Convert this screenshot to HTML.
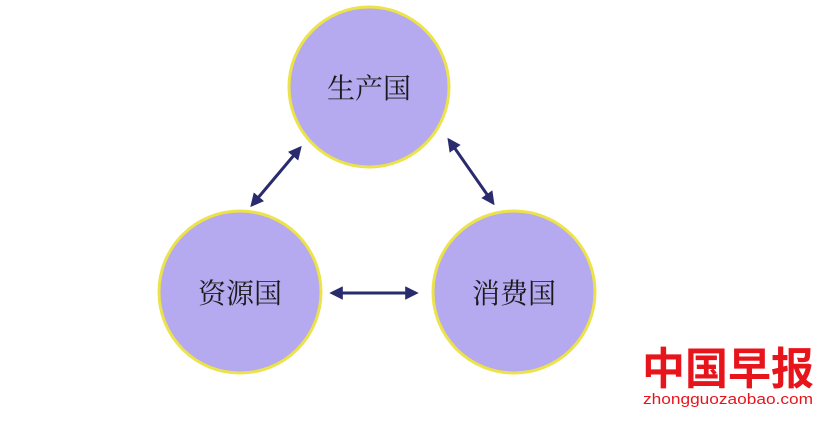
<!DOCTYPE html>
<html><head><meta charset="utf-8"><style>
html,body{margin:0;padding:0;background:#fff;}
body{width:830px;height:430px;position:relative;overflow:hidden;}
.t{font-family:"Liberation Serif","Noto Serif CJK SC",serif;font-size:28px;fill:#1a1a1a;}
</style></head><body>
<svg width="830" height="430" style="position:absolute;left:0;top:0">
<defs>
<marker id="a" viewBox="0 0 10 10" refX="8" refY="5" markerWidth="4.5" markerHeight="4.5" orient="auto-start-reverse">
<path d="M0,0 L10,5 L0,10 z" fill="#2a2a6e"/></marker>
</defs>
<circle cx="369" cy="87" r="80" fill="#b5a9ef" stroke="#ece24a" stroke-width="3"/>
<circle cx="240" cy="292" r="81" fill="#b5a9ef" stroke="#ece24a" stroke-width="3"/>
<circle cx="514" cy="292" r="81" fill="#b5a9ef" stroke="#ece24a" stroke-width="3"/>
<g stroke="#2a2a6e" stroke-width="3" marker-start="url(#a)" marker-end="url(#a)">
<line x1="300" y1="148" x2="252" y2="205"/>
<line x1="449" y1="140" x2="493" y2="203"/>
<line x1="332" y1="293" x2="416" y2="293"/>
</g>
<text class="t" x="369" y="98" text-anchor="middle">生产国</text>
<text class="t" x="240" y="303" text-anchor="middle">资源国</text>
<text class="t" x="514" y="303" text-anchor="middle">消费国</text>
<text x="728" y="384" text-anchor="middle" font-family="'Noto Sans CJK SC',sans-serif" font-weight="bold" font-size="44" fill="#e8141c" textLength="172" lengthAdjust="spacingAndGlyphs">中国早报</text>
<text x="728" y="404" text-anchor="middle" font-family="'Liberation Sans','DejaVu Sans',sans-serif" font-size="15" fill="#e8141c" textLength="170" lengthAdjust="spacingAndGlyphs">zhongguozaobao.com</text>
</svg>
</body></html>
